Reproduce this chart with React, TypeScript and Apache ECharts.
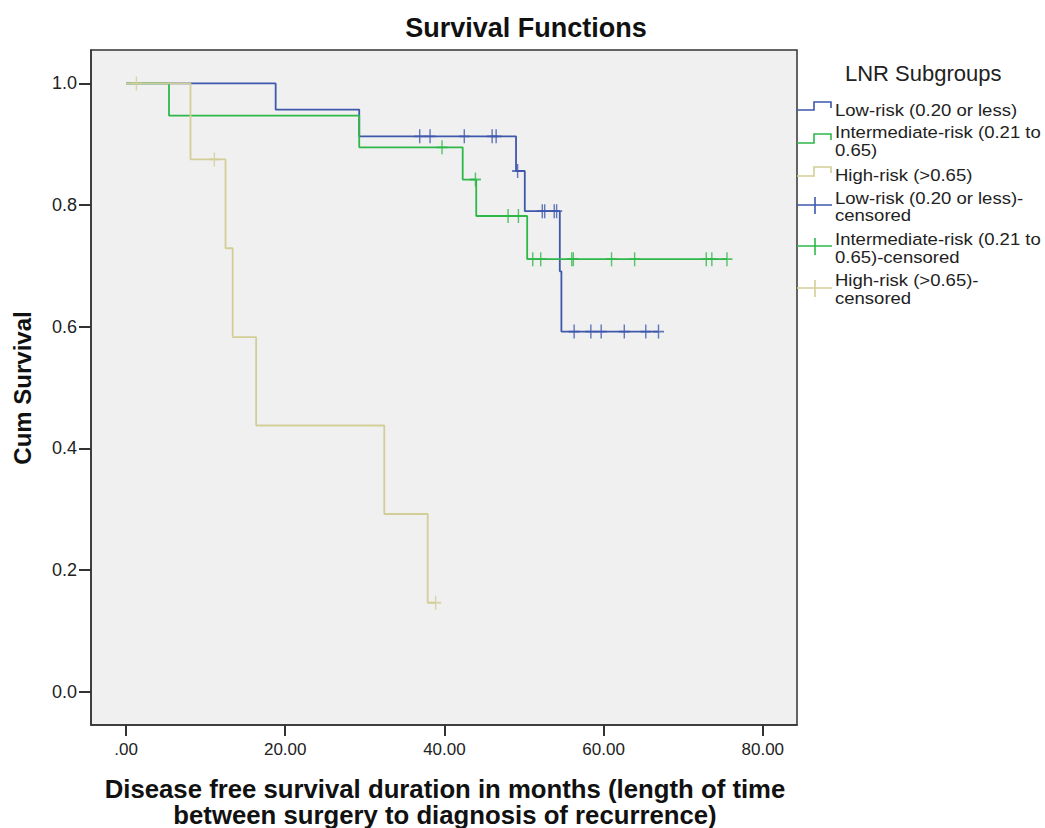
import React, { useEffect, useRef } from "react";
import * as echarts from "echarts";

const FONT = '"Liberation Sans", Arial, Helvetica, sans-serif';

const BLUE = "#3e58ac";
const GREEN = "#2eb848";
const YELLOW = "#d3ce97";

// Kaplan-Meier step points (time in months, cumulative survival)
const lowTimes = [0, 18.8, 29.3, 49.0, 50.1, 54.5, 54.7, 66.9];
const lowValues = [1.0, 0.957, 0.913, 0.856, 0.79, 0.691, 0.592, 0.592];
const lowCensTimes = [36.9, 38.2, 42.5, 46.0, 46.5, 49.2, 52.3, 52.6, 53.8, 54.1, 56.3, 58.4, 59.7, 62.6, 65.3, 66.9];
const lowCensValues = [0.913, 0.913, 0.913, 0.913, 0.913, 0.856, 0.79, 0.79, 0.79, 0.79, 0.592, 0.592, 0.592, 0.592, 0.592, 0.592];

const midTimes = [0, 5.4, 29.3, 42.3, 44.0, 50.4, 75.5];
const midValues = [1.0, 0.947, 0.895, 0.842, 0.782, 0.711, 0.711];
const midCensTimes = [39.7, 43.9, 48.0, 49.3, 51.1, 52.1, 56.0, 56.2, 61.0, 63.9, 72.9, 73.6, 75.5];
const midCensValues = [0.895, 0.842, 0.782, 0.782, 0.711, 0.711, 0.711, 0.711, 0.711, 0.711, 0.711, 0.711, 0.711];

const highTimes = [0, 8.1, 12.5, 13.4, 16.35, 32.45, 37.9, 38.9];
const highValues = [1.0, 0.875, 0.729, 0.583, 0.4375, 0.292, 0.146, 0.146];
const highCensTimes = [1.3, 11.1, 38.9];
const highCensValues = [1.0, 0.875, 0.146];

const xTicks = [0, 20, 40, 60, 80];
const yTicks = [0, 0.2, 0.4, 0.6, 0.8, 1.0];

const seriesNames = [
  "Low-risk (0.20 or less)",
  "Intermediate-risk (0.21 to 0.65)",
  "High-risk (>0.65)",
];

const zip = (a: number[], b: number[]) => a.map((t, i) => [t, b[i]]);

const PLUS = "path://M0,7L12,7M6,0L6,14";

export default function App() {
  const ref = useRef<HTMLDivElement>(null);

  useEffect(() => {
    if (!ref.current) return;
    const chart = echarts.init(ref.current, undefined, { renderer: "svg" });

    const stepSeries = (name: string, t: number[], v: number[], color: string, z: number) => ({
      name,
      type: "line",
      step: "end",
      data: zip(t, v),
      showSymbol: false,
      symbol: "none",
      lineStyle: { color, width: 1.8 },
      itemStyle: { color },
      z,
      silent: true,
    });
    const censSeries = (name: string, t: number[], v: number[], color: string, z: number) => ({
      name,
      type: "scatter",
      data: zip(t, v),
      symbol: PLUS,
      symbolSize: [11, 14],
      symbolKeepAspect: false,
      itemStyle: { color: "rgba(0,0,0,0)", borderColor: color, borderWidth: 1.6 },
      z,
      silent: true,
    });

    const legendText = (text: string, x: number, y: number) => ({
      type: "text",
      x,
      y,
      scaleX: 1.09,
      style: { text, font: `17px ${FONT}`, fill: "#222", textVerticalAlign: "middle" },
    });
    const stepIcon = (color: string, low: number, high: number) => ({
      type: "polyline",
      shape: { points: [[797, low], [814, low], [814, high], [831, high], [831, high + 6]] },
      style: { stroke: color, lineWidth: 1.6, fill: "none" },
    });
    const censIcon = (color: string, y: number) => [
      { type: "line", shape: { x1: 797, y1: y, x2: 832, y2: y }, style: { stroke: color, lineWidth: 1.6 } },
      { type: "line", shape: { x1: 815, y1: y - 8, x2: 815, y2: y + 9 }, style: { stroke: color, lineWidth: 1.6 } },
    ];

    const option: any = {
      animation: false,
      backgroundColor: "#ffffff",
      grid: {
        left: 91,
        top: 50,
        width: 706,
        height: 675,
        show: true,
        backgroundColor: "#f0f0f0",
        borderColor: "#333",
        borderWidth: 1.5,
      },
      xAxis: {
        type: "value",
        min: -4.4,
        max: 84.3,
        axisLine: { show: true, onZero: false, lineStyle: { color: "#333", width: 1.5 } },
        axisTick: { show: true, customValues: xTicks, length: 11, lineStyle: { color: "#333", width: 2 } },
        axisLabel: {
          customValues: xTicks,
          formatter: (v: number) => (v === 0 ? ".00" : v.toFixed(2)),
          fontSize: 17,
          color: "#222",
          fontFamily: FONT,
          margin: 16,
        },
        splitLine: { show: false },
      },
      yAxis: {
        type: "value",
        min: -0.055,
        max: 1.055,
        axisLine: { show: true, onZero: false, lineStyle: { color: "#333", width: 1.5 } },
        axisTick: { show: true, customValues: yTicks, length: 12, lineStyle: { color: "#333", width: 2 } },
        axisLabel: {
          customValues: yTicks,
          formatter: (v: number) => v.toFixed(1),
          fontSize: 18,
          color: "#222",
          fontFamily: FONT,
          margin: 14,
        },
        splitLine: { show: false },
      },
      series: [
        stepSeries(seriesNames[0], lowTimes, lowValues, BLUE, 3),
        stepSeries(seriesNames[1], midTimes, midValues, GREEN, 4),
        stepSeries(seriesNames[2], highTimes, highValues, YELLOW, 5),
        censSeries(seriesNames[0] + "-censored", lowCensTimes, lowCensValues, BLUE, 6),
        censSeries(seriesNames[1] + "-censored", midCensTimes, midCensValues, GREEN, 7),
        censSeries(seriesNames[2] + "-censored", highCensTimes, highCensValues, YELLOW, 8),
      ],
      graphic: [
        {
          type: "text",
          x: 526,
          y: 28,
          style: { text: "Survival Functions", font: `bold 27px ${FONT}`, fill: "#111", textAlign: "center", textVerticalAlign: "middle" },
        },
        {
          type: "text",
          x: 22,
          y: 388,
          rotation: Math.PI / 2,
          style: { text: "Cum Survival", font: `bold 24px ${FONT}`, fill: "#111", textAlign: "center", textVerticalAlign: "middle" },
        },
        {
          type: "text",
          x: 445,
          y: 789,
          scaleX: 1.03,
          style: { text: "Disease free survival duration in months (length of time", font: `bold 25px ${FONT}`, fill: "#111", textAlign: "center", textVerticalAlign: "middle" },
        },
        {
          type: "text",
          x: 445,
          y: 815,
          scaleX: 1.03,
          style: { text: "between surgery to diagnosis of recurrence)", font: `bold 25px ${FONT}`, fill: "#111", textAlign: "center", textVerticalAlign: "middle" },
        },
        {
          type: "text",
          x: 845,
          y: 73,
          style: { text: "LNR Subgroups", font: `22px ${FONT}`, fill: "#222", textVerticalAlign: "middle" },
        },
        stepIcon(BLUE, 110, 102),
        stepIcon(GREEN, 143, 134),
        stepIcon(YELLOW, 176, 167),
        ...censIcon(BLUE, 205),
        ...censIcon(GREEN, 246),
        ...censIcon(YELLOW, 288),
        legendText("Low-risk (0.20 or less)", 835, 110),
        legendText("Intermediate-risk (0.21 to", 835, 132),
        legendText("0.65)", 835, 150),
        legendText("High-risk (>0.65)", 835, 175),
        legendText("Low-risk (0.20 or less)-", 835, 198),
        legendText("censored", 835, 215),
        legendText("Intermediate-risk (0.21 to", 835, 239),
        legendText("0.65)-censored", 835, 257),
        legendText("High-risk (>0.65)-", 835, 280),
        legendText("censored", 835, 298),
      ],
    };

    chart.setOption(option);
    return () => chart.dispose();
  }, []);

  return (
    <div
      ref={ref}
      style={{ position: "absolute", left: 0, top: 0, width: 1045, height: 828, background: "#fff" }}
    />
  );
}
